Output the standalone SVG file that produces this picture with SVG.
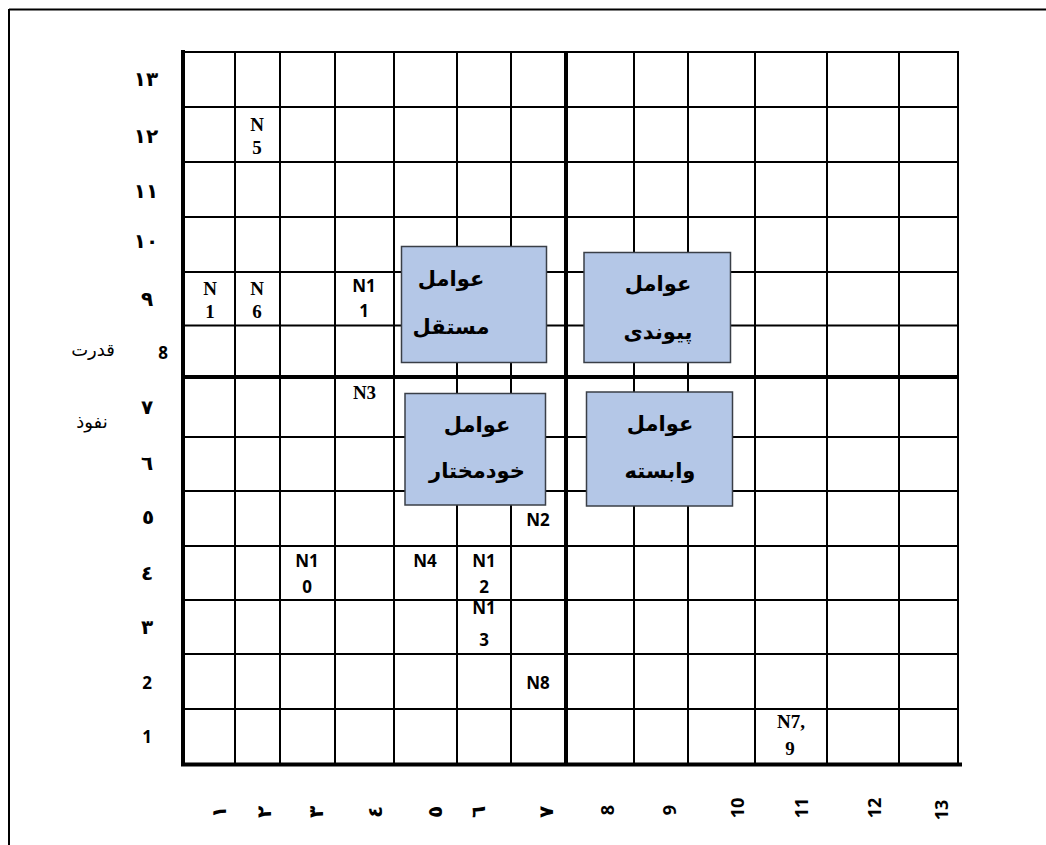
<svg xmlns="http://www.w3.org/2000/svg" width="1046" height="845" viewBox="0 0 1046 845">
<style>
.thin{stroke:#000;stroke-width:2;fill:none}
.thick{stroke:#000;stroke-width:4;fill:none}
.box{fill:#B4C7E7;stroke:#3a3f47;stroke-width:1.5}
.bt{font-family:"DejaVu Sans",sans-serif;font-weight:bold;font-size:21px;fill:#000;text-anchor:middle}
.tn{font-family:"Liberation Serif",serif;font-weight:bold;font-size:19px;fill:#000;text-anchor:middle}
.cn{font-family:"Open Sans","Liberation Sans",sans-serif;font-weight:bold;font-size:17px;fill:#000;text-anchor:middle}
.ya{font-family:"DejaVu Sans",sans-serif;font-weight:bold;font-size:20px;fill:#000;text-anchor:middle}
.yl{font-family:"Open Sans","Liberation Sans",sans-serif;font-weight:bold;font-size:17px;fill:#000;text-anchor:middle}
.ax{font-family:"DejaVu Sans",serif;font-size:18px;fill:#000;text-anchor:middle}
.xa{font-family:"DejaVu Sans",sans-serif;font-weight:bold;font-size:20px;fill:#000;text-anchor:middle}
.xl{font-family:"Open Sans","Liberation Sans",sans-serif;font-weight:bold;font-size:18px;fill:#000;text-anchor:middle}
</style>
<rect width="1046" height="845" fill="#fff"/>
<g id="frame">
<line class="thin" x1="9" y1="9.5" x2="1046" y2="9.5"/>
<line class="thin" x1="9" y1="9" x2="9" y2="845"/>
</g>
<g id="grid">
<g class="thin">
<line x1="183" y1="52" x2="958" y2="52"/>
<line x1="183" y1="107" x2="958" y2="107"/>
<line x1="183" y1="162" x2="958" y2="162"/>
<line x1="183" y1="217" x2="958" y2="217"/>
<line x1="183" y1="272" x2="958" y2="272"/>
<line x1="183" y1="325.5" x2="958" y2="325.5"/>
<line x1="183" y1="437" x2="958" y2="437"/>
<line x1="183" y1="491" x2="958" y2="491"/>
<line x1="183" y1="546" x2="958" y2="546"/>
<line x1="183" y1="600" x2="958" y2="600"/>
<line x1="183" y1="654" x2="958" y2="654"/>
<line x1="183" y1="709" x2="958" y2="709"/>
<line x1="235" y1="52" x2="235" y2="764"/>
<line x1="280" y1="52" x2="280" y2="764"/>
<line x1="335" y1="52" x2="335" y2="764"/>
<line x1="394" y1="52" x2="394" y2="764"/>
<line x1="457" y1="52" x2="457" y2="764"/>
<line x1="511" y1="52" x2="511" y2="764"/>
<line x1="634" y1="52" x2="634" y2="764"/>
<line x1="688" y1="52" x2="688" y2="764"/>
<line x1="755" y1="52" x2="755" y2="764"/>
<line x1="827" y1="52" x2="827" y2="764"/>
<line x1="899" y1="52" x2="899" y2="764"/>
<line x1="958" y1="51" x2="958" y2="764"/>
</g>
<g class="thick">
<line x1="183" y1="50" x2="183" y2="766"/>
<line x1="566" y1="52" x2="566" y2="764"/>
<line x1="183" y1="377" x2="958" y2="377"/>
<line x1="181" y1="764.5" x2="962" y2="764.5"/>
</g>
</g>
<g id="y-axis">
<text class="ya" x="146" y="86">۱۳</text>
<text class="ya" x="146" y="143">۱۲</text>
<text class="ya" x="146" y="198">۱۱</text>
<text class="ya" x="146" y="248">۱۰</text>
<text class="ya" x="147" y="306">۹</text>
<text class="yl" x="163" y="359">8</text>
<text class="ya" x="147" y="414">۷</text>
<text class="ya" x="147" y="470">٦</text>
<text class="ya" x="148" y="524">٥</text>
<text class="ya" x="147" y="580">٤</text>
<text class="ya" x="147" y="634">۳</text>
<text class="yl" x="147" y="689">2</text>
<text class="yl" x="147" y="743">1</text>
<text class="ax" x="93" y="356">قدرت</text>
<text class="ax" x="92" y="428">نفوذ</text>
</g>
<g id="x-axis">
<text class="xa" transform="translate(226,812) rotate(-90)">۱</text>
<text class="xa" transform="translate(271,812) rotate(-90)">۲</text>
<text class="xa" transform="translate(323,812) rotate(-90)">۳</text>
<text class="xa" transform="translate(382,812) rotate(-90)">٤</text>
<text class="xa" transform="translate(442,812) rotate(-90)">٥</text>
<text class="xa" transform="translate(485,812) rotate(-90)">٦</text>
<text class="xa" transform="translate(553,812) rotate(-90)">۷</text>
<text class="xl" transform="translate(614,810) rotate(-90)">8</text>
<text class="xl" transform="translate(676,810) rotate(-90)">9</text>
<text class="xl" transform="translate(744,808) rotate(-90)">10</text>
<text class="xl" transform="translate(808,808) rotate(-90)">11</text>
<text class="xl" transform="translate(881,808) rotate(-90)">12</text>
<text class="xl" transform="translate(948,810) rotate(-90)">13</text>
</g>
<g id="cells">
<g id="N5"><text class="tn" x="257" y="131">N</text><text class="tn" x="257" y="154">5</text></g>
<g id="N1"><text class="tn" x="210" y="295">N</text><text class="tn" x="210" y="318">1</text></g>
<g id="N6"><text class="tn" x="257" y="295">N</text><text class="tn" x="257" y="318">6</text></g>
<g id="N11"><text class="cn" x="364" y="292">N1</text><text class="cn" x="364" y="317">1</text></g>
<g id="N3"><text class="tn" x="364.5" y="399">N3</text></g>
<g id="N2"><text class="cn" x="538" y="526">N2</text></g>
<g id="N10"><text class="cn" x="307" y="567">N1</text><text class="cn" x="307" y="592.5">0</text></g>
<g id="N4"><text class="cn" x="425" y="567">N4</text></g>
<g id="N12"><text class="cn" x="484" y="567">N1</text><text class="cn" x="484" y="592.5">2</text></g>
<g id="N13"><text class="cn" x="484" y="614">N1</text><text class="cn" x="484" y="646">3</text></g>
<g id="N8"><text class="cn" x="538" y="689">N8</text></g>
<g id="N7-9"><text class="tn" x="791" y="728">N7,</text><text class="tn" x="790" y="755">9</text></g>
</g>
<g id="box-independent">
<rect class="box" x="401.5" y="246.5" width="145" height="116"/>
<text class="bt" x="451" y="286">عوامل</text>
<text class="bt" x="451" y="334">مستقل</text>
</g>
<g id="box-linkage">
<rect class="box" x="584" y="252.5" width="146.5" height="110"/>
<text class="bt" x="658" y="291">عوامل</text>
<text class="bt" x="658" y="339">پیوندی</text>
</g>
<g id="box-autonomous">
<rect class="box" x="405" y="393.5" width="140.5" height="111.5"/>
<text class="bt" x="477" y="432">عوامل</text>
<text class="bt" x="477" y="478">خودمختار</text>
</g>
<g id="box-dependent">
<rect class="box" x="586.5" y="392" width="146" height="114"/>
<text class="bt" x="660" y="431">عوامل</text>
<text class="bt" x="660" y="478">وابسته</text>
</g>
<g id="connectors"/>
</svg>
